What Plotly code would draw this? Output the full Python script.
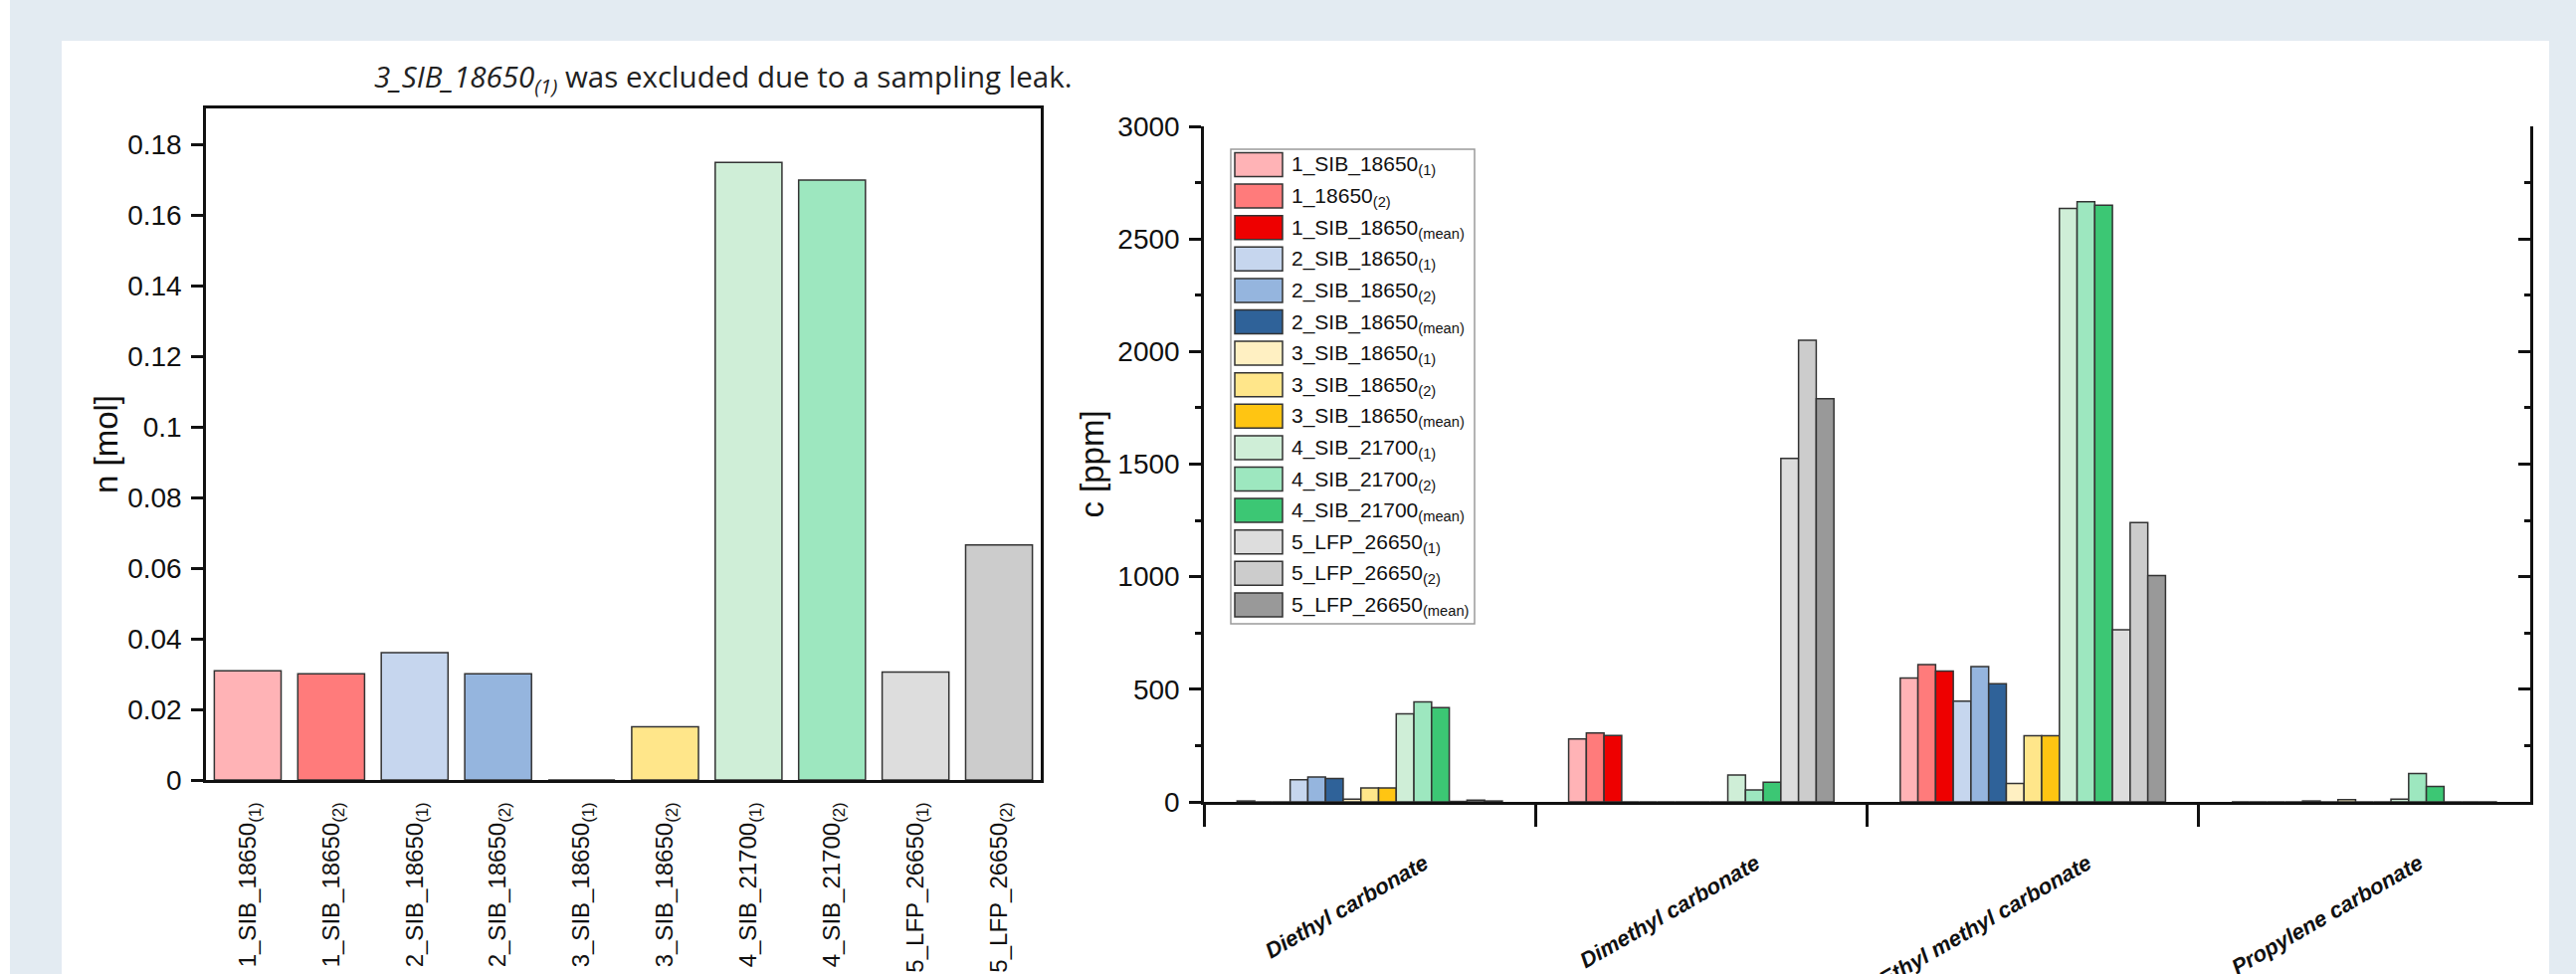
import plotly.graph_objects as go

W, H = 2589, 979

# ---------------- data ----------------
left_samples = ["1_SIB_18650<sub>(1)</sub>", "1_SIB_18650<sub>(2)</sub>",
                "2_SIB_18650<sub>(1)</sub>", "2_SIB_18650<sub>(2)</sub>",
                "3_SIB_18650<sub>(1)</sub>", "3_SIB_18650<sub>(2)</sub>",
                "4_SIB_21700<sub>(1)</sub>", "4_SIB_21700<sub>(2)</sub>",
                "5_LFP_26650<sub>(1)</sub>", "5_LFP_26650<sub>(2)</sub>"]
left_values = [0.0309, 0.0301, 0.0361, 0.0301, 0.0, 0.0151, 0.1749, 0.1699, 0.0306, 0.0666]
left_colors = ["#ffb3b6", "#ff7b7b", "#c6d6ee", "#95b5de", "#fff0c2", "#ffe68a",
               "#cfeed7", "#9de7bf", "#dddddd", "#cccccc"]
left_tickvals = [0, 0.02, 0.04, 0.06, 0.08, 0.1, 0.12, 0.14, 0.16, 0.18]
left_ticktext = ["0", "0.02", "0.04", "0.06", "0.08", "0.1", "0.12", "0.14", "0.16", "0.18"]

compounds = ["Diethyl carbonate", "Dimethyl carbonate", "Ethyl methyl carbonate", "Propylene carbonate"]
series_names = ["1_SIB_18650<sub>(1)</sub>", "1_18650<sub>(2)</sub>", "1_SIB_18650<sub>(mean)</sub>",
                "2_SIB_18650<sub>(1)</sub>", "2_SIB_18650<sub>(2)</sub>", "2_SIB_18650<sub>(mean)</sub>",
                "3_SIB_18650<sub>(1)</sub>", "3_SIB_18650<sub>(2)</sub>", "3_SIB_18650<sub>(mean)</sub>",
                "4_SIB_21700<sub>(1)</sub>", "4_SIB_21700<sub>(2)</sub>", "4_SIB_21700<sub>(mean)</sub>",
                "5_LFP_26650<sub>(1)</sub>", "5_LFP_26650<sub>(2)</sub>", "5_LFP_26650<sub>(mean)</sub>"]
series_colors = ["#ffb3b6", "#ff7b7b", "#ee0000",
                 "#c6d6ee", "#95b5de", "#2f6299",
                 "#fff0c2", "#ffe68a", "#ffc512",
                 "#cfeed7", "#9de7bf", "#3cc774",
                 "#dddddd", "#cccccc", "#999999"]
# values per series: [Diethyl, Dimethyl, Ethyl methyl, Propylene] carbonate, ppm
s1_1 = [4, 279, 550, 0]
s1_2 = [0, 306, 610, 0]
s1_m = [0, 295, 581, 0]
s2_1 = [98, 0, 447, 0]
s2_2 = [110, 0, 601, 4]
s2_m = [104, 0, 525, 0]
s3_1 = [12, 0, 82, 10]
s3_2 = [62, 0, 294, 0]
s3_m = [62, 0, 294, 0]
s4_1 = [391, 119, 2635, 12]
s4_2 = [444, 53, 2665, 126]
s4_m = [419, 87, 2650, 68]
s5_1 = [2, 1525, 764, 0]
s5_2 = [8, 2050, 1240, 0]
s5_m = [4, 1790, 1005, 0]
series_values = [s1_1, s1_2, s1_m, s2_1, s2_2, s2_m, s3_1, s3_2, s3_m,
                 s4_1, s4_2, s4_m, s5_1, s5_2, s5_m]

# ---------------- helpers ----------------
def px(x):
    return x / W


def py(y):
    return 1 - y / H


AX = "#111111"
FONT = "Liberation Sans, Arial, sans-serif"

fig = go.Figure()

fig.add_trace(go.Bar(x=left_samples, y=left_values, xaxis="x", yaxis="y",
                     marker=dict(color=left_colors, line=dict(color="#333333", width=1.5)),
                     showlegend=False))

for name, color, vals in zip(series_names, series_colors, series_values):
    fig.add_trace(go.Bar(x=compounds, y=vals, name=name, xaxis="x2", yaxis="y2",
                         marker=dict(color=color, line=dict(color="#333333", width=1.5)),
                         showlegend=False))

# empty trace to anchor the mirrored right-hand axis
fig.add_trace(go.Scatter(x=[], y=[], xaxis="x2", yaxis="y3", showlegend=False))

shapes = [
    dict(type="rect", xref="paper", yref="paper", x0=px(62), x1=px(2562), y0=-0.01, y1=py(41),
         fillcolor="white", line=dict(width=0), layer="below"),
    dict(type="rect", xref="paper", yref="paper", x0=0, x1=px(10), y0=-0.01, y1=1,
         fillcolor="white", line=dict(width=0), layer="below"),
    dict(type="rect", xref="paper", yref="paper", x0=px(1237), x1=px(1482), y0=py(627), y1=py(150),
         fillcolor="white", line=dict(color="#9a9a9a", width=1.5), layer="above"),
]
annotations = [
    dict(xref="paper", yref="paper", x=px(726), y=py(78), xanchor="center", yanchor="middle",
         text="<i>3_SIB_18650<sub>(1)</sub></i> was excluded due to a sampling leak.",
         showarrow=False, font=dict(family="Open Sans, sans-serif", size=29.5, color="#222222")),
]

row0, pitch = 165.5, 31.6
for i, (name, color) in enumerate(zip(series_names, series_colors)):
    yc = row0 + pitch * i
    shapes.append(dict(type="rect", xref="paper", yref="paper",
                       x0=px(1241), x1=px(1289), y0=py(yc + 12), y1=py(yc - 12),
                       fillcolor=color, line=dict(color="#333333", width=1.5), layer="above"))
    annotations.append(dict(xref="paper", yref="paper", x=px(1296), y=py(yc + 1),
                            xanchor="left", yanchor="middle", text=name, showarrow=False,
                            font=dict(family=FONT, size=21, color="#111111")))

fig.update_layout(
    width=W, height=H, autosize=False,
    margin=dict(l=0, r=0, t=0, b=0, pad=0, autoexpand=False),
    paper_bgcolor="#e3ebf2",
    plot_bgcolor="white",
    barmode="group", bargap=0.2, bargroupgap=0,
    font=dict(family=FONT, color="#111111"),
    shapes=shapes, annotations=annotations,
    xaxis=dict(domain=[px(207), px(1046)], anchor="y", type="category", automargin=False,
               showline=True, linecolor=AX, linewidth=2.5, mirror=True,
               ticks="", tickangle=-90, tickfont=dict(size=24, family=FONT),
               ticklabelstandoff=10,
               showgrid=False, zeroline=False, fixedrange=True),
    yaxis=dict(domain=[py(784), py(109)], anchor="x", range=[0, 0.1902], automargin=False,
               tickvals=left_tickvals, ticktext=left_ticktext,
               showline=True, linecolor=AX, linewidth=2.5, mirror=True,
               ticks="outside", ticklen=12, tickwidth=2.5, tickcolor=AX,
               tickfont=dict(size=28, family=FONT), ticklabelstandoff=4,
               title=dict(text="n [mol]", font=dict(size=33, family=FONT), standoff=0),
               showgrid=False, zeroline=False),
    xaxis2=dict(domain=[px(1210), px(2543)], anchor="y2", type="category", automargin=False,
                showline=True, linecolor=AX, linewidth=2.5,
                ticks="outside", tickson="boundaries", ticklen=22, tickwidth=2.5, tickcolor=AX,
                tickangle=-30, ticklabelstandoff=38, ticklabelshift=55,
                tickfont=dict(size=22, family=FONT, weight="bold", style="italic"),
                showgrid=False, zeroline=False),
    yaxis2=dict(domain=[py(806), py(127)], anchor="x2", range=[0, 3000], dtick=500,
                automargin=False,
                showline=True, linecolor=AX, linewidth=2.5,
                ticks="outside", ticklen=12, tickwidth=2.5, tickcolor=AX,
                minor=dict(dtick=250, ticks="outside", ticklen=6, tickwidth=2.5, tickcolor=AX,
                           showgrid=False),
                tickfont=dict(size=28, family=FONT), ticklabelstandoff=4,
                title=dict(text="c [ppm]", font=dict(size=33, family=FONT), standoff=4),
                showgrid=False, zeroline=False),
    yaxis3=dict(overlaying="y2", anchor="x2", side="right", range=[0, 3000], dtick=500,
                automargin=False,
                showline=True, linecolor=AX, linewidth=2.5,
                ticks="inside", ticklen=12, tickwidth=2.5, tickcolor=AX,
                minor=dict(dtick=250, ticks="inside", ticklen=6, tickwidth=2.5, tickcolor=AX,
                           showgrid=False),
                showticklabels=False, showgrid=False, zeroline=False),
)

post = "document.body.style.margin='0';document.body.style.overflow='hidden';"
fig.write_html("out.html", post_script=post,
               config={"displayModeBar": False, "responsive": False})
